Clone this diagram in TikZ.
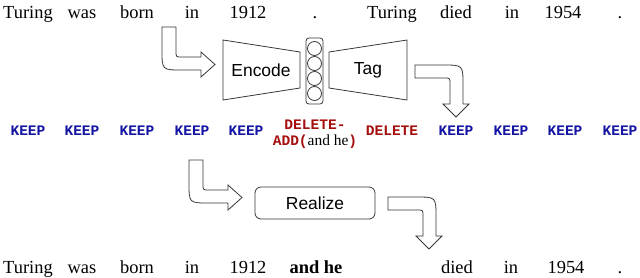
\documentclass[tikz,border=0pt]{standalone}
\usepackage{fontspec}
\setmainfont{Liberation Serif}
\setsansfont{Liberation Sans}
\setmonofont{Liberation Mono}
\usepackage{tikz}
\usetikzlibrary{positioning}
\definecolor{keepblue}{RGB}{20,20,165}
\definecolor{delred}{RGB}{165,15,15}
\definecolor{linegray}{RGB}{55,55,55}

\begin{document}
\begin{tikzpicture}[x=1bp, y=-1bp,
    word/.style={font=\fontsize{18.5}{20}\selectfont, anchor=base, inner sep=0pt},
    keep/.style={font=\fontsize{14.6}{16}\selectfont\ttfamily\bfseries, text=keepblue, anchor=base, inner sep=0pt},
    del/.style={keep, text=delred},
    module/.style={font=\sffamily\fontsize{17.5}{20}\selectfont, inner sep=0pt},
    shapeline/.style={draw=linegray, line width=0.8bp},
    pics/downright/.style={code={
        \draw[shapeline, fill=white] (0,0) -- (14,0) -- (14,24) .. controls (14,30) .. (20,30)
            -- (39,30) -- (39,25) -- (53,37.5) -- (39,50) -- (39,43) -- (20,43)
            .. controls (0,43) .. (0,23) -- cycle;}},
    pics/rightdown/.style={code={
        \draw[shapeline, fill=white] (0,0) -- (28,0) .. controls (48,0) .. (48,20)
            -- (48,39) -- (54,39) -- (41,52) -- (28,39) -- (35,39) -- (35,19)
            .. controls (35,13) .. (29,13) -- (0,13) -- cycle;}}]
    \useasboundingbox (0,0) rectangle (640,277);

    % source sentence
    \node[word] (s1) at (28,18) {Turing};
    \node[word] (s2) at (82,18) {was};
    \node[word] (s3) at (137,18) {born};
    \node[word] (s4) at (192,18) {in};
    \node[word] (s5) at (248,18) {1912};
    \node[word] (s6) at (315,18) {.};
    \node[word] (s7) at (392,18) {Turing};
    \node[word] (s8) at (456,18) {died};
    \node[word] (s9) at (512,18) {in};
    \node[word] (s10) at (563,18) {1954};
    \node[word] (s11) at (620,18) {.};

    % encoder, hidden state, tagger
    \draw[shapeline] (223,40) -- (300,52) -- (300,88) -- (223,100) -- cycle;
    \node[module] (encode) at (261,70) {Encode};
    \draw[shapeline, rounded corners=3bp] (306,38) rectangle (323,104);
    \foreach \y in {48.5,63.5,78.5,93.5}
        \draw[shapeline] (314.5,\y) circle[radius=7];
    \draw[shapeline] (329,52) -- (407,40) -- (407,100) -- (329,88) -- cycle;
    \node[module] (tag) at (368,70) {Tag};

    % edit tags
    \node[keep] (t1) at (28,135) {KEEP};
    \node[keep] (t2) at (82,135) {KEEP};
    \node[keep] (t3) at (137,135) {KEEP};
    \node[keep] (t4) at (192,135) {KEEP};
    \node[keep] (t5) at (246,135) {KEEP};
    \node[del, font=\fontsize{14.6}{15.5}\selectfont\ttfamily\bfseries, align=center, anchor=center] (t6) at (315,134)
        {DELETE-\\ADD({\rmfamily\mdseries\fontsize{15.5}{15.5}\selectfont\textcolor{black}{and he}})};
    \node[del] (t7) at (392,135) {DELETE};
    \node[keep] (t8) at (456,135) {KEEP};
    \node[keep] (t9) at (511,135) {KEEP};
    \node[keep] (t10) at (565,135) {KEEP};
    \node[keep] (t11) at (620,135) {KEEP};

    % realization step
    \draw[shapeline, rounded corners=6bp] (255,187) rectangle (375,219);
    \node[module] (realize) at (315,203) {Realize};

    % output sentence
    \node[word] (r1) at (28,273) {Turing};
    \node[word] (r2) at (82,273) {was};
    \node[word] (r3) at (137,273) {born};
    \node[word] (r4) at (192,273) {in};
    \node[word] (r5) at (248,273) {1912};
    \node[word, font=\fontsize{18.5}{20}\selectfont\bfseries] (r6) at (316,273) {and he};
    \node[word] (r7) at (457,273) {died};
    \node[word] (r8) at (511,273) {in};
    \node[word] (r9) at (566,273) {1954};
    \node[word] (r10) at (620,273) {.};

    % block arrows
    \pic at (162,27) {downright};
    \pic at (415,65) {rightdown};
    \pic at (189,160) {downright};
    \pic at (388,197) {rightdown};
\end{tikzpicture}
\end{document}
